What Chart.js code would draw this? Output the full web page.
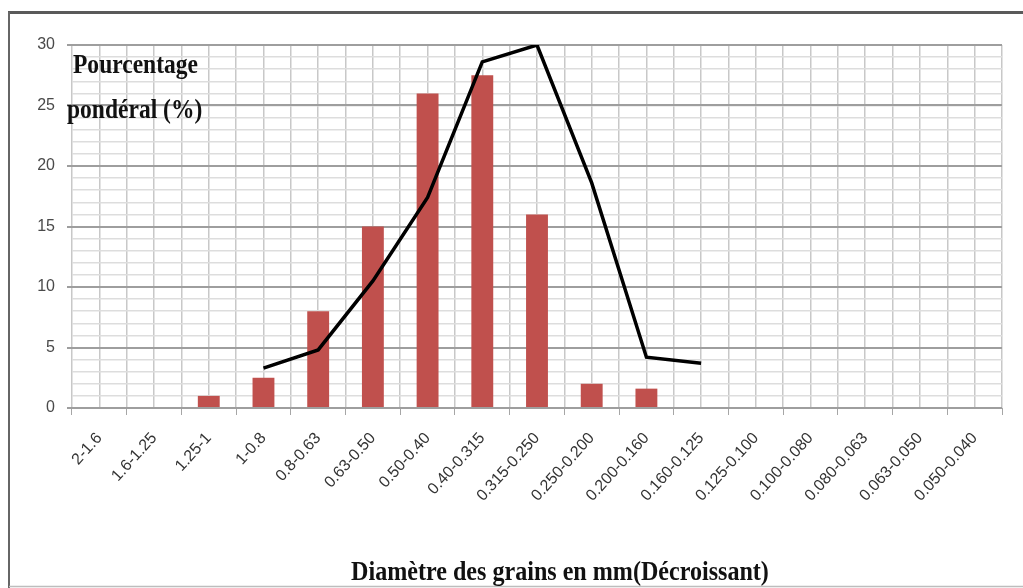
<!DOCTYPE html>
<html>
<head>
<meta charset="utf-8">
<script src="https://cdn.jsdelivr.net/npm/chart.js@4.4.0/dist/chart.umd.min.js"></script>
<style>
html, body { margin: 0; padding: 0; background: #fff; }
#wrap { width: 1023px; height: 588px; position: relative; }
</style>
</head>
<body>
<div id="wrap"><canvas id="granulo"></canvas></div>
<script>
// Classes granulométriques (mm), ordre décroissant
var classes = ['2-1.6', '1.6-1.25', '1.25-1', '1-0.8', '0.8-0.63', '0.63-0.50', '0.50-0.40',
  '0.40-0.315', '0.315-0.250', '0.250-0.200', '0.200-0.160', '0.160-0.125', '0.125-0.100',
  '0.100-0.080', '0.080-0.063', '0.063-0.050', '0.050-0.040'];

// Pourcentage pondéral (barres)
var pourcentages = [null, null, 1, 2.5, 8, 15, 26, 27.5, 16, 2, 1.6, null, null, null, null, null, null];

// Courbe tracée par-dessus
var courbe = [null, null, null, 3.3, 4.8, 10.5, 17.4, 28.6, 30, 18.6, 4.2, 3.7, null, null, null, null, null];

var yTicks = [0, 5, 10, 15, 20, 25, 30];
var titreY = ['Pourcentage', 'pondéral (%)'];
var titreX = 'Diamètre des grains en mm(Décroissant)';

// cadre + titres en serif gras condensé
var decor = {
  id: 'decor',
  beforeDraw: function(chart) {
    var ctx = chart.ctx;
    ctx.save();
    ctx.fillStyle = '#fff';
    ctx.fillRect(0, 0, chart.width, chart.height);
    ctx.strokeStyle = '#5a5a5a';
    ctx.lineWidth = 3;
    ctx.beginPath(); ctx.moveTo(8, 12.5); ctx.lineTo(chart.width, 12.5); ctx.stroke();
    ctx.strokeStyle = '#666';
    ctx.lineWidth = 2;
    ctx.beginPath(); ctx.moveTo(9, 12); ctx.lineTo(9, chart.height); ctx.stroke();
    ctx.strokeStyle = '#bdbdbd';
    ctx.lineWidth = 1.5;
    ctx.beginPath(); ctx.moveTo(9, 586.5); ctx.lineTo(chart.width, 586.5); ctx.stroke();
    ctx.restore();
  },
  afterDraw: function(chart) {
    var ctx = chart.ctx, a = chart.chartArea;
    ctx.save();
    ctx.fillStyle = '#111';
    ctx.font = 'bold 28px "Liberation Serif"';
    ctx.textBaseline = 'alphabetic';
    ctx.textAlign = 'left';
    ctx.save(); ctx.translate(a.left + 1, 73); ctx.scale(0.84, 1); ctx.fillText(titreY[0], 0, 0); ctx.restore();
    ctx.save(); ctx.translate(a.left - 5, 118); ctx.scale(0.84, 1); ctx.fillText(titreY[1], 0, 0); ctx.restore();
    ctx.textAlign = 'center';
    ctx.save(); ctx.translate(560, 580); ctx.scale(0.86, 1); ctx.fillText(titreX, 0, 0); ctx.restore();
    ctx.restore();
  }
};

new Chart(document.getElementById('granulo'), {
  data: {
    labels: classes,
    datasets: [
      { type: 'line', data: courbe, borderColor: '#000', borderWidth: 3.5, pointRadius: 0, tension: 0, order: 0 },
      { type: 'bar', data: pourcentages, backgroundColor: '#c0504d', barPercentage: 0.4, categoryPercentage: 1, order: 1 }
    ]
  },
  options: {
    responsive: true,
    maintainAspectRatio: false,
    animation: false,
    layout: { padding: { left: 0, top: 45, right: 21, bottom: 0 } },
    plugins: { legend: { display: false }, tooltip: { enabled: false } },
    scales: {
      x: {
        type: 'category',
        offset: true,
        grid: { offset: true, drawOnChartArea: false, tickLength: 7, color: '#a6a6a6' },
        border: { display: false },
        ticks: { color: '#333333', font: { family: 'Liberation Sans', size: 16 }, minRotation: 48, maxRotation: 48, padding: 14, autoSkip: false },
        afterFit: function(s) { s.height = 180; }
      },
      xg: {
        type: 'linear', position: 'bottom', min: 0, max: classes.length,
        ticks: { display: false, stepSize: 0.5 },
        grid: { color: '#c8c8c8', lineWidth: 1.5, drawTicks: false, z: -2 },
        border: { display: false },
        afterFit: function(s) { s.height = 0; }
      },
      y: {
        min: 0, max: 30, position: 'left',
        afterBuildTicks: function(s) { s.ticks = yTicks.map(function(v) { return { value: v }; }); },
        grid: { color: '#9e9e9e', lineWidth: 2, tickLength: 5 },
        border: { display: false },
        ticks: { color: '#4a4a4a', font: { family: 'Liberation Sans', size: 16 }, padding: 12 },
        afterFit: function(s) { s.width = 72; }
      },
      yg: {
        type: 'linear', position: 'left', min: 0, max: 30,
        ticks: { display: false, stepSize: 1 },
        grid: { color: '#dddddd', lineWidth: 1.5, drawTicks: false, z: -2 },
        border: { display: false },
        afterFit: function(s) { s.width = 0; }
      }
    }
  },
  plugins: [decor]
});
</script>
</body>
</html>
